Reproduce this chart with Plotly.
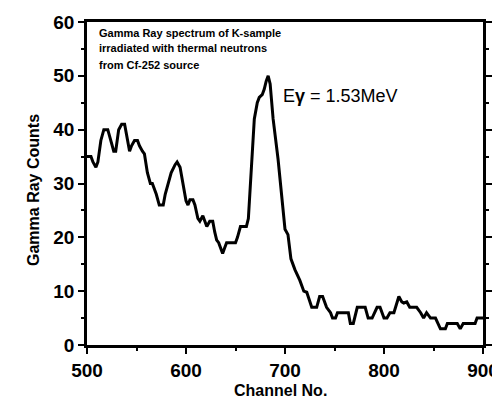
import plotly.graph_objects as go

channels = [500, 504, 506, 509, 511, 514, 517, 521, 524, 527, 529, 532, 535, 538, 540,
            543, 545, 548, 551, 553, 556, 558, 561, 564, 566, 570, 573, 577, 579, 581,
            585, 589, 591, 594, 596, 598, 600, 602, 604, 607, 609, 612, 614, 617, 619,
            621, 624, 627, 629, 631, 633, 637, 639, 641, 650, 652, 655, 661, 663, 665,
            667, 669, 672, 674, 677, 679, 681, 683, 685, 688, 693, 697, 700, 703, 706,
            710, 715, 719, 722, 724, 727, 732, 735, 738, 742, 746, 748, 751, 753, 764,
            766, 769, 773, 781, 784, 788, 793, 796, 800, 803, 806, 810, 815, 818, 820,
            823, 826, 833, 837, 840, 843, 847, 852, 857, 862, 864, 874, 877, 880, 892,
            894, 900]
counts = [35, 35, 34, 33, 34, 38, 40, 40, 38, 36, 36, 40, 41, 41, 39,
          36, 37, 38, 38, 37, 36, 35.5, 32, 30, 30, 28, 26, 26, 28, 29.5,
          32, 33.5, 34, 33, 31, 28.5, 26.8, 26, 27, 27, 26, 23.5, 23, 24, 23,
          22, 23, 23, 21, 19.5, 19, 17, 18, 19, 19, 20, 22, 22, 23.5, 29,
          35, 42, 45, 46, 46.5, 47.5, 49, 50, 48.5, 42, 34.5, 27, 21.5, 20.5, 16,
          14, 12, 10, 9.8, 8.7, 7, 7, 9, 9, 7, 6, 5, 5, 6, 6,
          4, 4, 7, 7, 5, 5, 7, 7, 5, 5, 6, 6, 9, 8, 7.8,
          8, 7, 7, 6, 5, 6, 5, 5, 3, 3, 4, 4, 3, 4, 4,
          5, 5]

x_ticks = [500, 600, 700, 800, 900]
y_ticks = [0, 10, 20, 30, 40, 50, 60]

title_lines = ["Gamma Ray spectrum of K-sample",
               "irradiated with thermal neutrons",
               "from Cf-252 source"]
peak_label = "E<b>γ</b> = 1.53MeV"
x_title = "Channel No."
y_title = "Gamma Ray Counts"

FONT = "Liberation Sans, Arial, sans-serif"

fig = go.Figure()
fig.add_trace(go.Scatter(x=channels, y=counts, mode="lines",
                         line=dict(color="black", width=3), showlegend=False))

# the page body has an 8px margin, so the figure sits at (8, 8) in the window
OX, OY = 8, 8
W, H = 500 - OX, 404 - OY
L, R, T, B = 87 - OX, 17, 22 - OY, 59
pw, ph = W - L - R, H - T - B

def px_to_paper_x(x):
    return (x - OX - L) / pw

def px_to_paper_y(y):
    return (H - B - (y - OY)) / ph

fig.update_layout(
    width=W, height=H,
    margin=dict(l=L, r=R, t=T, b=B, pad=0, autoexpand=False),
    paper_bgcolor="white", plot_bgcolor="white",
    font=dict(family=FONT, color="black"),
    xaxis=dict(range=[500, 900], tickvals=x_ticks, ticks="outside", ticklen=6,
               tickwidth=2, tickcolor="black", showline=True, linewidth=2.5,
               linecolor="black", mirror=True, showgrid=False, zeroline=False,
               automargin=False,
               tickfont=dict(size=19, weight="bold", family=FONT),
               minor=dict(tickvals=[550, 650, 750, 850], ticks="outside", ticklen=3,
                          tickwidth=2, tickcolor="black")),
    yaxis=dict(range=[0, 60], tickvals=y_ticks, ticks="outside", ticklen=6,
               tickwidth=2, tickcolor="black", showline=True, linewidth=2.5,
               linecolor="black", mirror="allticks", showgrid=False, zeroline=False,
               automargin=False,
               tickfont=dict(size=19, weight="bold", family=FONT),
               minor=dict(tickvals=[5, 15, 25, 35, 45, 55], ticks="outside", ticklen=3,
                          tickwidth=2, tickcolor="black")),
)

annotations = []
for txt, yc in zip(title_lines, [33, 48, 65]):
    annotations.append(dict(text=txt, xref="paper", yref="paper",
                            x=px_to_paper_x(97), y=px_to_paper_y(yc),
                            xanchor="left", yanchor="middle", showarrow=False,
                            font=dict(size=11, weight="bold", family=FONT)))
annotations.append(dict(text=peak_label, xref="paper", yref="paper",
                        x=px_to_paper_x(281), y=px_to_paper_y(96),
                        xanchor="left", yanchor="middle", showarrow=False,
                        font=dict(size=18, family=FONT)))
annotations.append(dict(text=x_title, xref="paper", yref="paper",
                        x=px_to_paper_x(280), y=px_to_paper_y(390),
                        xanchor="center", yanchor="middle", showarrow=False,
                        font=dict(size=16, weight="bold", family=FONT)))
annotations.append(dict(text=y_title, xref="paper", yref="paper",
                        x=px_to_paper_x(33), y=px_to_paper_y(190),
                        xanchor="center", yanchor="middle", showarrow=False,
                        textangle=-90,
                        font=dict(size=16, weight="bold", family=FONT)))
fig.update_layout(annotations=annotations)

fig.write_html("out.html")
